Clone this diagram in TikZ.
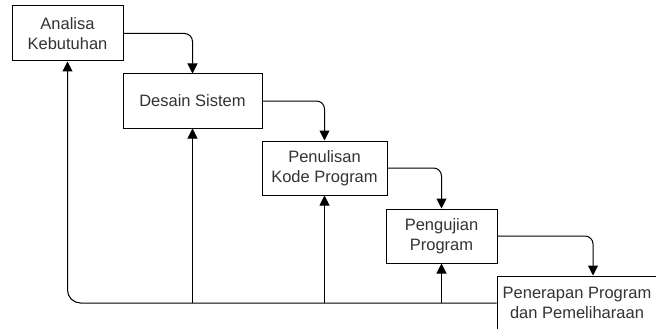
\documentclass[tikz,border=0pt]{standalone}
\usepackage{fontspec}
\setmainfont{Liberation Sans}
\usetikzlibrary{arrows.meta}
\definecolor{txtgray}{HTML}{333333}
\begin{document}
\begin{tikzpicture}[x=1pt,y=-1pt,
  stage/.style={draw=black,line width=1pt,fill=white,inner sep=0pt,align=center,
    text=txtgray,font=\fontsize{16.5}{19.5}\selectfont},
  flow/.style={draw=black,line width=1pt,rounded corners=8pt,
    -{Triangle[length=10pt,width=10pt]}},
  back/.style={draw=black,line width=1pt,-{Triangle[length=10pt,width=10pt]}}]
\clip (0,0) rectangle (656,329);
\node[stage,minimum width=111pt,minimum height=55pt] (b1) at (67.5,33.5) {Analisa\\Kebutuhan};
\node[stage,minimum width=139pt,minimum height=54pt] (b2) at (192.5,101) {Desain Sistem};
\node[stage,minimum width=125pt,minimum height=54pt] (b3) at (324.5,168) {Penulisan\\Kode Program};
\node[stage,minimum width=111pt,minimum height=54pt] (b4) at (441.5,236) {Pengujian\\Program};
\node[stage,minimum width=160pt,minimum height=54pt] (b5) at (577,303) {Penerapan Program\\dan Pemeliharaan};
\coordinate (corner) at (b1.south |- b5.west);
\coordinate (j2) at (b2.south |- b5.west);
\coordinate (j3) at (b3.south |- b5.west);
\coordinate (j4) at (b4.south |- b5.west);
\coordinate (t5) at ([xshift=16pt]b5.north);
\draw[flow] (b1.east) -| (b2.north);
\draw[flow] (b2.east) -| (b3.north);
\draw[flow] (b3.east) -| (b4.north);
\draw[flow] (b4.east) -| (t5);
\draw[flow,rounded corners=13pt] (b5.west) -- (corner) -- (b1.south);
\draw[back] (j2) -- (b2.south);
\draw[back] (j3) -- (b3.south);
\draw[back] (j4) -- (b4.south);
\end{tikzpicture}
\end{document}
